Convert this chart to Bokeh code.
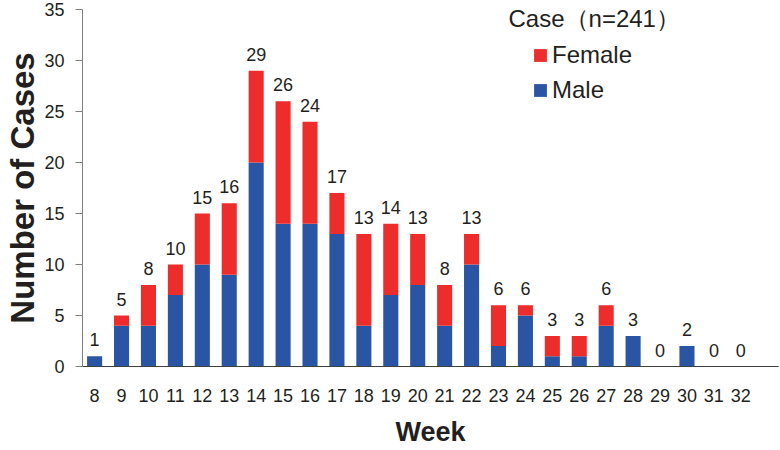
from bokeh.plotting import figure
from bokeh.models import ColumnDataSource, FixedTicker, Legend, LegendItem, Label, Range1d
from bokeh.embed import file_html
from bokeh.resources import INLINE
from bokeh.core.properties import value

# ---- data ----
weeks = list(range(8, 33))
male = [1, 4, 4, 7, 10, 9, 20, 14, 14, 13, 4, 7, 8, 4, 10, 2, 5, 1, 1, 4, 3, 0, 2, 0, 0]
female = [0, 1, 4, 3, 5, 7, 9, 12, 10, 4, 9, 7, 5, 4, 3, 4, 1, 2, 2, 2, 0, 0, 0, 0, 0]
y_ticks = [0, 5, 10, 15, 20, 25, 30, 35]
series = ["Male", "Female"]
legend_title = "Case（n=241）"
x_title = "Week"
y_title = "Number of Cases"

BLUE = "#2A55A5"
RED = "#EC2D2B"
TXT = "#231F20"
FONT = "Liberation Sans"

totals = [m + f for m, f in zip(male, female)]
src = ColumnDataSource(dict(week=weeks, Male=male, Female=female,
                            total=totals, label=[str(t) for t in totals]))

p = figure(width=780, height=450,
           x_range=Range1d(7.55, 33.4), y_range=Range1d(0, 35),
           output_backend="svg", toolbar_location=None,
           min_border_left=82, min_border_right=2,
           min_border_top=9, min_border_bottom=84)
p.outline_line_color = None
p.grid.visible = False
p.background_fill_color = "white"

rs = p.vbar_stack(series, x="week", width=0.56, color=[BLUE, RED],
                  line_color=None, source=src)

p.text(x="week", y="total", text="label", source=src, y_offset=-10,
       text_align="center", text_baseline="bottom",
       text_font=value(FONT), text_font_size="18px", text_color=TXT)

# y axis
ya = p.yaxis[0]
ya.ticker = FixedTicker(ticks=y_ticks)
ya.axis_label = y_title
ya.axis_label_text_font = FONT
ya.axis_label_text_font_style = "bold"
ya.axis_label_text_font_size = "33px"
ya.axis_label_text_color = TXT
ya.axis_label_standoff = 0
ya.major_label_text_font = FONT
ya.major_label_text_font_size = "18px"
ya.major_label_text_color = TXT
ya.major_label_standoff = 11
ya.major_tick_in = 0
ya.major_tick_out = 7
ya.minor_tick_line_color = None
ya.axis_line_color = "#7F7F7F"
ya.major_tick_line_color = "#7F7F7F"

# x axis
xa = p.xaxis[0]
xa.ticker = FixedTicker(ticks=weeks)
xa.axis_label = x_title
xa.axis_label_text_font = FONT
xa.axis_label_text_font_style = "bold"
xa.axis_label_text_font_size = "27px"
xa.axis_label_text_color = TXT
xa.axis_label_standoff = 12
xa.major_label_text_font = FONT
xa.major_label_text_font_size = "18px"
xa.major_label_text_color = TXT
xa.major_label_standoff = 16
xa.major_tick_line_color = None
xa.minor_tick_line_color = None
xa.axis_line_color = "#404040"

# legend
title = Label(x=426, y=348, x_units="screen", y_units="screen", text=legend_title,
              text_font=FONT, text_font_size="24px", text_color=TXT,
              text_baseline="middle", text_align="left")
p.add_layout(title)

legend = Legend(items=[LegendItem(label=series[1], renderers=[rs[1]]),
                       LegendItem(label=series[0], renderers=[rs[0]])],
                location=(450, 262), padding=0, margin=0, spacing=7,
                glyph_width=16, glyph_height=16, label_height=28,
                label_standoff=4, label_text_font=FONT,
                label_text_font_size="24px", label_text_color=TXT,
                border_line_color=None, background_fill_alpha=0)
p.add_layout(legend)

open("out.html", "w").write(file_html(p, INLINE))
